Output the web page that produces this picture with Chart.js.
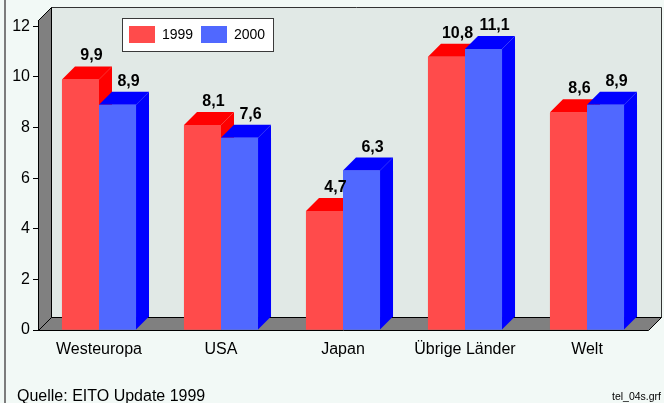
<!DOCTYPE html>
<html>
<head>
<meta charset="utf-8">
<script src="https://cdn.jsdelivr.net/npm/chart.js@4/dist/chart.umd.min.js"></script>
<style>
  html, body { margin: 0; padding: 0; background: #f2f9f6; }
  #wrap { position: relative; width: 664px; height: 403px; }
  canvas { display: block; }
</style>
</head>
<body>
<div id="wrap"><canvas id="c" width="664" height="403"></canvas></div>
<script>
// Market growth by region, percent
const regions = ['Westeuropa', 'USA', 'Japan', 'Übrige Länder', 'Welt'];
const years = ['1999', '2000'];
const growth1999 = [9.9, 8.1, 4.7, 10.8, 8.6];
const growth2000 = [8.9, 7.6, 6.3, 11.1, 8.9];
const yTicks = [0, 2, 4, 6, 8, 10, 12];
const sourceNote = 'Quelle: EITO Update 1999';
const fileTag = 'tel_04s.grf';

const FONT = '"Liberation Sans", Arial, Helvetica, sans-serif';
const DEPTH = 13;                       // 3D depth offset in px
const frontColors = ['#ff4b4b', '#5068ff'];
const shadeColors = ['#ff0000', '#0000ff'];

const fmt = v => v.toFixed(1).replace('.', ',');

function poly(ctx, pts, fill, stroke) {
  ctx.beginPath();
  ctx.moveTo(pts[0][0], pts[0][1]);
  for (let i = 1; i < pts.length; i++) ctx.lineTo(pts[i][0], pts[i][1]);
  ctx.closePath();
  if (fill) { ctx.fillStyle = fill; ctx.fill(); }
  if (stroke) { ctx.strokeStyle = stroke; ctx.lineWidth = 1; ctx.stroke(); }
}

// Back wall, left wall and floor of the 3D box
const boxPlugin = {
  id: 'box3d',
  beforeDraw(chart) {
    const { ctx, chartArea: a } = chart;
    const D = DEPTH;
    ctx.save();
    // outer frame line on the left
    ctx.fillStyle = '#7c7c7c';
    ctx.fillRect(4, 0, 2, chart.height);
    const L = Math.round(a.left) + 0.5, R = Math.round(a.right) + 0.5;
    const T = Math.round(a.top) + 0.5, B = Math.round(a.bottom) + 0.5;
    // back wall
    poly(ctx, [[L + D, T - D], [R + D, T - D], [R + D, B - D], [L + D, B - D]], '#e1e9e6', '#333333');
    // left side wall
    poly(ctx, [[L, T], [L + D, T - D], [L + D, B - D], [L, B]], '#808080', '#000000');
    // floor
    poly(ctx, [[L, B], [L + D, B - D], [R + D, B - D], [R, B]], '#808080', '#000000');
    ctx.restore();
  },
  afterDatasetsDraw(chart) {
    const { ctx } = chart;
    const D = DEPTH;
    const metas = chart.getSortedVisibleDatasetMetas();
    ctx.save();
    for (let i = 0; i < regions.length; i++) {
      metas.forEach((meta, di) => {
        const bar = meta.data[i];
        const { x, y, base, width } = bar.getProps(['x', 'y', 'base', 'width'], true);
        const l = x - width / 2, r = x + width / 2;
        const c = shadeColors[di];
        poly(ctx, [[r, y], [r + D, y - D], [r + D, base - D], [r, base]], c);
        poly(ctx, [[l, y], [l + D, y - D], [r + D, y - D], [r, y]], c);
        bar.draw(ctx);
      });
    }
    // value labels
    ctx.fillStyle = '#000';
    ctx.font = 'bold 16px ' + FONT;
    ctx.textAlign = 'center';
    ctx.textBaseline = 'alphabetic';
    metas.forEach(meta => {
      const data = chart.data.datasets[meta.index].data;
      meta.data.forEach((bar, i) => {
        const { x, y } = bar.getProps(['x', 'y'], true);
        ctx.fillText(fmt(data[i]), x + 11, y - D - 6);
      });
    });
    ctx.restore();
  },
  afterDraw(chart) {
    const { ctx } = chart;
    ctx.save();
    // legend box
    ctx.fillStyle = '#ffffff';
    ctx.fillRect(122, 18, 151, 33);
    ctx.strokeStyle = '#3a3a3a';
    ctx.lineWidth = 1;
    ctx.strokeRect(122.5, 18.5, 151, 33);
    ctx.font = '14px ' + FONT;
    ctx.textBaseline = 'middle';
    ctx.textAlign = 'left';
    const sw = [129, 201];
    chart.data.datasets.forEach((ds, k) => {
      ctx.fillStyle = ds.backgroundColor;
      ctx.fillRect(sw[k], 26, 26, 17);
      ctx.fillStyle = '#000';
      ctx.fillText(ds.label, sw[k] + 33, 35);
    });
    // footer
    ctx.textBaseline = 'alphabetic';
    ctx.font = '16px ' + FONT;
    ctx.fillText(sourceNote, 17, 401);
    ctx.font = '10.5px ' + FONT;
    ctx.textAlign = 'right';
    ctx.fillText(fileTag, 661, 400);
    ctx.restore();
  }
};

new Chart(document.getElementById('c'), {
  type: 'bar',
  data: {
    labels: regions,
    datasets: [
      { label: years[0], data: growth1999, backgroundColor: frontColors[0] },
      { label: years[1], data: growth2000, backgroundColor: frontColors[1] }
    ]
  },
  options: {
    responsive: false,
    animation: false,
    devicePixelRatio: 1,
    layout: { padding: { left: 0, top: 20, right: 16, bottom: 0 } },
    datasets: {
      bar: { categoryPercentage: 0.607, barPercentage: 1, borderWidth: 0 }
    },
    plugins: { legend: { display: false }, tooltip: { enabled: false } },
    scales: {
      x: {
        type: 'category',
        offset: true,
        grid: { display: false },
        border: { display: false },
        ticks: { color: '#000', padding: 2, font: { family: FONT, size: 16 } },
        afterFit: s => { s.height = 73; }
      },
      y: {
        min: 0,
        max: 12.25,
        grid: { drawOnChartArea: false, drawTicks: true, tickLength: 5, color: '#000' },
        border: { display: true, color: '#000' },
        ticks: { color: '#000', padding: 3, font: { family: FONT, size: 16 }, callback: v => String(v) },
        afterBuildTicks: s => { s.ticks = yTicks.map(v => ({ value: v })); },
        afterFit: s => { s.width = 38; }
      }
    }
  },
  plugins: [boxPlugin]
});
</script>
</body>
</html>
